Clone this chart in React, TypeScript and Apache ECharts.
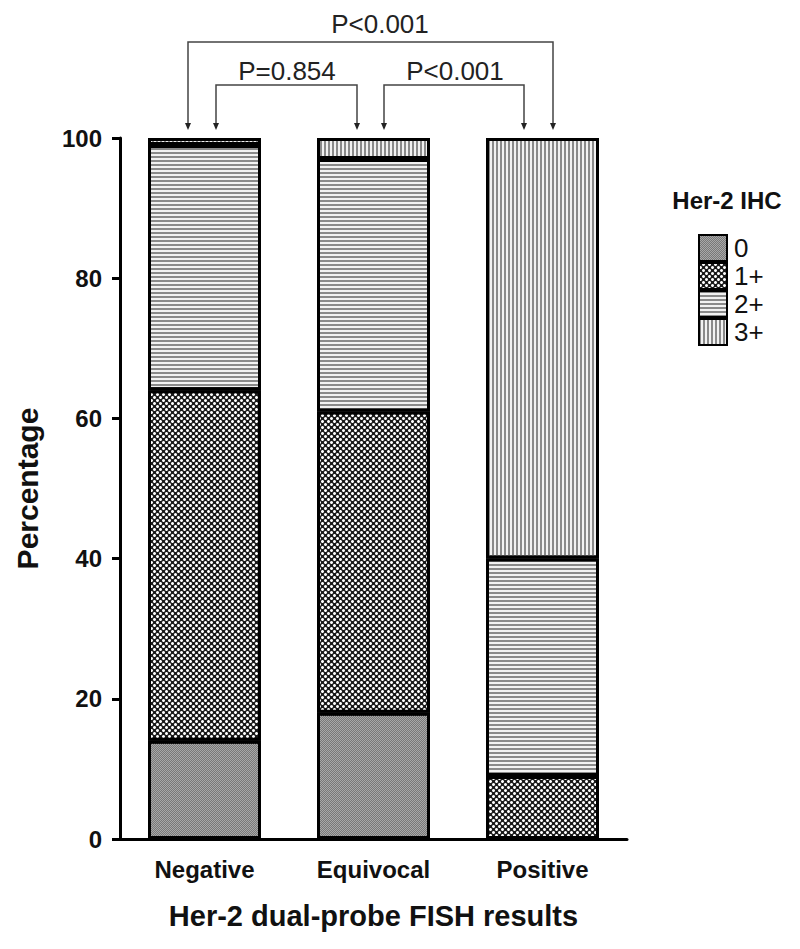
import React, { useEffect, useRef } from "react";
import * as echarts from "echarts";

const categories = ["Negative", "Equivocal", "Positive"];
const seriesNames = ["0", "1+", "2+", "3+"];
const ihc0 = [14, 18, 0];
const ihc1 = [50, 43, 9];
const ihc2 = [35, 36, 31];
const ihc3 = [1, 3, 60];
const yTicks = [0, 20, 40, 60, 80, 100];
const pLabels = ["P<0.001", "P=0.854", "P<0.001"];

const FONT = "'Liberation Sans', Arial, Helvetica, sans-serif";

export default function App() {
  const ref = useRef<HTMLDivElement>(null);
  useEffect(() => {
    if (!ref.current) return;
    const chart = echarts.init(ref.current, null, { renderer: "svg" });
    const values = [ihc0, ihc1, ihc2, ihc3];
    const styles: any[] = [
      {
        color: "#a8a8a8",
        decal: { symbol: "rect", symbolSize: 1, rotation: 0, color: "#787878", dashArrayX: [[1, 1], [0, 1, 1, 0]], dashArrayY: [1, 0] },
      },
      {
        color: "#1a1a1a",
        decal: { symbol: "circle", symbolSize: 1, rotation: 0, color: "#ffffff", dashArrayX: [[3, 3], [0, 3, 3, 0]], dashArrayY: [3, 0] },
      },
      {
        color: "#f2f2f2",
        decal: { symbol: "rect", symbolSize: 1, rotation: 0, color: "#8a8a8a", dashArrayX: [[1, 0]], dashArrayY: [2, 2] },
      },
      {
        color: "#f2f2f2",
        decal: { symbol: "rect", symbolSize: 1, rotation: 0, color: "#8a8a8a", dashArrayX: [2, 2], dashArrayY: [1, 0] },
      },
    ];
    const series = seriesNames.map((n, i) => ({
      name: n,
      type: "bar",
      stack: "total",
      barWidth: 113,
      data: values[i],
      itemStyle: { ...styles[i], borderColor: "#000", borderWidth: 3 },
    }));

    const lineStyle = { stroke: "#444", lineWidth: 1.5, fill: null };
    const arrow = (x: number) => ({
      type: "polygon",
      shape: { points: [[x - 3, 123], [x + 3, 123], [x, 130]] },
      style: { fill: "#222" },
    });
    const bracket = (x1: number, x2: number, y: number) => ({
      type: "polyline",
      shape: { points: [[x1, 124], [x1, y], [x2, y], [x2, 124]] },
      style: lineStyle,
    });
    const pText = (x: number, y: number, t: string) => ({
      type: "text",
      x,
      y,
      style: { text: t, fontFamily: FONT, fontSize: 26, fill: "#222", align: "center", verticalAlign: "middle" },
    });

    chart.setOption({
      animation: false,
      aria: { enabled: true, decal: { show: true } },
      grid: { left: 120, top: 138, width: 507, height: 701 },
      legend: {
        orient: "vertical",
        left: 693,
        top: 229,
        itemWidth: 28,
        itemHeight: 26,
        itemGap: 0,
        data: seriesNames,
        icon: "rect",
        itemStyle: { borderWidth: 2, borderColor: "#000" },
        textStyle: { fontFamily: FONT, fontSize: 26, color: "#111", padding: [0, 0, 0, 2] },
      },
      xAxis: {
        type: "category",
        data: categories,
        name: "Her-2 dual-probe FISH results",
        nameLocation: "middle",
        nameGap: 62,
        nameTextStyle: { fontFamily: FONT, fontSize: 29, fontWeight: "bold", color: "#111" },
        axisLine: { lineStyle: { color: "#000", width: 3 } },
        axisTick: { alignWithLabel: true, length: 8, lineStyle: { color: "#000", width: 3 } },
        axisLabel: { fontFamily: FONT, fontSize: 24, fontWeight: "bold", color: "#111", margin: 18 },
      },
      yAxis: {
        type: "value",
        min: yTicks[0],
        max: yTicks[yTicks.length - 1],
        interval: 20,
        name: "Percentage",
        nameLocation: "middle",
        nameGap: 78,
        nameTextStyle: { fontFamily: FONT, fontSize: 30, fontWeight: "bold", color: "#111" },
        splitLine: { show: false },
        axisLine: { show: true, lineStyle: { color: "#000", width: 3 } },
        axisTick: { show: true, length: 8, lineStyle: { color: "#000", width: 3 } },
        axisLabel: { fontFamily: FONT, fontSize: 24, fontWeight: "bold", color: "#111", margin: 18 },
      },
      graphic: [
        { type: "text", x: 727, y: 200, style: { text: "Her-2 IHC", fontFamily: FONT, fontSize: 24, fontWeight: "bold", fill: "#111", align: "center", verticalAlign: "middle" } },
        bracket(188, 553, 42),
        bracket(216, 357, 85),
        bracket(384, 524, 85),
        arrow(188), arrow(553), arrow(216), arrow(357), arrow(384), arrow(524),
        pText(380, 24, pLabels[0]),
        pText(287, 71, pLabels[1]),
        pText(455, 71, pLabels[2]),
      ],
      series,
    });
    return () => chart.dispose();
  }, []);
  return <div ref={ref} style={{ position: "fixed", left: 0, top: 0, width: 800, height: 949, background: "#fff" }} />;
}
